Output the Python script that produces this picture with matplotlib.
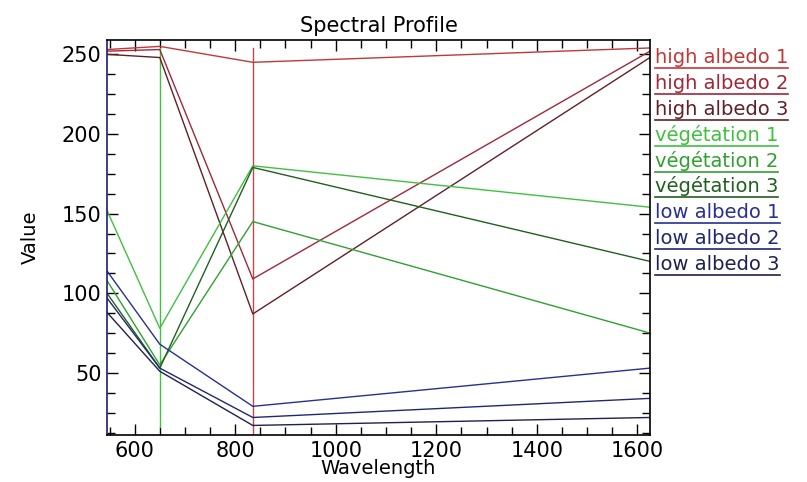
"""
Spectral profile of nine sample pixels (high albedo, vegetation, low albedo)
"""

import matplotlib
matplotlib.use("Agg")
import matplotlib.pyplot as plt
from matplotlib.ticker import MultipleLocator

# Band centres (nm)
wavelengths = [545, 650, 835, 1625]

# Profiles
labels = ['high albedo 1', 'high albedo 2', 'high albedo 3',
          'végétation 1', 'végétation 2', 'végétation 3',
          'low albedo 1', 'low albedo 2', 'low albedo 3']
high_albedo_1 = [253, 255, 245, 254]
high_albedo_2 = [252, 253, 109, 252]
high_albedo_3 = [250, 248, 87, 248]
vegetation_1 = [152, 78, 180, 154]
vegetation_2 = [108, 55, 145, 75]
vegetation_3 = [100, 53, 179, 120]
low_albedo_1 = [114, 68, 29, 53]
low_albedo_2 = [97, 53, 22, 34]
low_albedo_3 = [88, 51, 17, 22]
profiles = [high_albedo_1, high_albedo_2, high_albedo_3,
            vegetation_1, vegetation_2, vegetation_3,
            low_albedo_1, low_albedo_2, low_albedo_3]

colors = ['#c03838', '#a02838', '#602028',
          '#40c040', '#30a030', '#206020',
          '#283090', '#202870', '#202050']

# Vertical band markers: wavelength, bottom, top
marker_wl = [650, 835]
marker_lo = [16, 11]
marker_hi = [254, 254]
marker_colors = ['#40c040', '#c04848']

fig = plt.figure(figsize=(8.07, 4.82), dpi=100)
ax = fig.add_axes([107 / 807, 1 - 435 / 482, 543 / 807, 395 / 482])

for wl, lo, hi, c in zip(marker_wl, marker_lo, marker_hi, marker_colors):
    ax.plot([wl, wl], [lo, hi], color=c, linewidth=1.0)

for vals, c in zip(profiles, colors):
    ax.plot(wavelengths, vals, color=c, linewidth=1.0)

ax.set_xlim(min(wavelengths), max(wavelengths))
ax.set_ylim(11, 259)
ax.xaxis.set_major_locator(MultipleLocator(200))
ax.xaxis.set_minor_locator(MultipleLocator(50))
ax.yaxis.set_major_locator(MultipleLocator(50))
ax.yaxis.set_minor_locator(MultipleLocator(12.5))
ax.tick_params(which='both', direction='in', top=True, right=True,
               labelsize=15, width=1.0, colors='black', pad=4)
ax.tick_params(which='major', length=8)
ax.tick_params(which='minor', length=5.5)
for s in ax.spines.values():
    s.set_linewidth(1.2)
ax.spines['left'].set_color('#1c1c6c')

ax.set_title('Spectral Profile', fontsize=15, pad=6)
ax.set_xlabel('Wavelength', fontsize=14, labelpad=-1)
ax.set_ylabel('Value', fontsize=14, labelpad=16)

# Legend as underlined coloured text to the right of the plot
fig.canvas.draw()
renderer = fig.canvas.get_renderer()
y0 = 1 - 63 / 482
step = 25.9 / 482
for i, (lab, c) in enumerate(zip(labels, colors)):
    y = y0 - i * step
    t = fig.text(655 / 807, y, lab, color=c, fontsize=14, va='baseline', ha='left')
    bb = t.get_window_extent(renderer).transformed(fig.transFigure.inverted())
    fig.add_artist(plt.Line2D([bb.x0, bb.x1], [y - 5 / 482, y - 5 / 482],
                              transform=fig.transFigure, color=c, linewidth=1.2))

fig.savefig('out.png', dpi=100)
